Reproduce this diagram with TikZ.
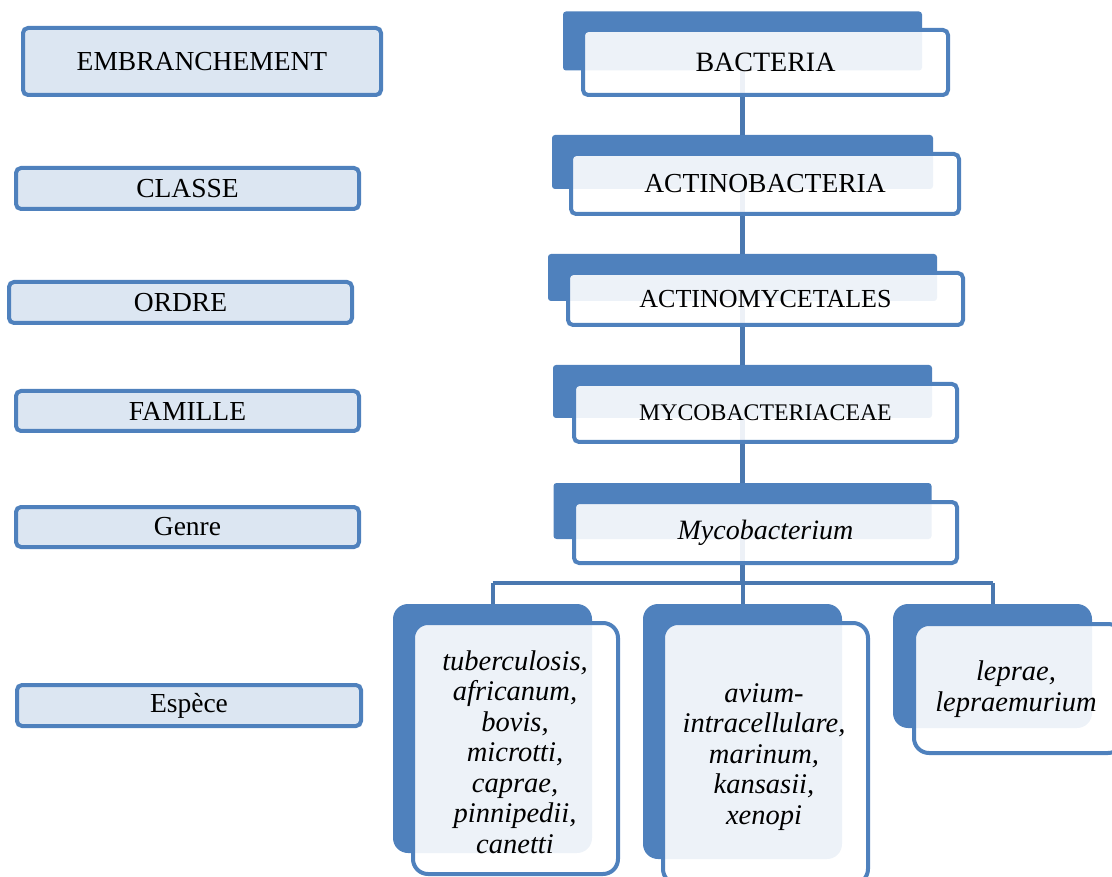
\documentclass[tikz,border=0pt]{standalone}
\usepackage{fontspec}
\setmainfont{Liberation Serif}
\definecolor{accent}{HTML}{4F81BD}
\definecolor{linkblue}{HTML}{4A78B0}
\definecolor{labelfill}{HTML}{DCE6F2}
\tikzset{
  rankbox/.style={rectangle, draw=accent, fill=labelfill, line width=4pt,
    rounded corners=5pt, inner sep=0pt, font=\fontsize{27.5}{30}\selectfont},
  backbox/.style={rectangle, fill=accent, rounded corners=3pt, inner sep=0pt},
  frontbox/.style={rectangle, draw=accent, fill=white, fill opacity=0.9,
    text opacity=1, line width=4pt, rounded corners=5pt, inner sep=0pt,
    align=center},
  backcard/.style={backbox, rounded corners=15pt},
  frontcard/.style={frontbox, rounded corners=15pt},
  speciestext/.style={align=center, inner sep=0pt,
    font=\fontsize{28.5}{30.5}\selectfont\itshape},
  link/.style={draw=linkblue, line width=5pt},
  bus/.style={draw=linkblue, line width=4pt},
}
\begin{document}
\begin{tikzpicture}[x=1pt, y=-1pt]
\useasboundingbox (0,0) rectangle (1112,877);
\clip (0,0) rectangle (1112,877);

% taxonomic ranks, left column
\node[rankbox, minimum width=358pt, minimum height=67pt] (r1) at (202,61.5) {EMBRANCHEMENT};
\node[rankbox, minimum width=343pt, minimum height=41pt] (r2) at (187.5,188.5) {CLASSE};
\node[rankbox, minimum width=343pt, minimum height=41pt] (r3) at (180.5,302.5) {ORDRE};
\node[rankbox, minimum width=343pt, minimum height=40pt] (r4) at (187.5,411) {FAMILLE};
\node[rankbox, minimum width=343pt, minimum height=40pt] (r5) at (187.5,527) {Genre};
\node[rankbox, minimum width=344pt, minimum height=41pt] (r6) at (189,705.5) {Espèce};

% coloured backing cards of the hierarchy
\node[backbox, minimum width=359pt, minimum height=59pt] (b1) at (742.5,41) {};
\node[backbox, minimum width=381pt, minimum height=54pt] (b2) at (742.5,162) {};
\node[backbox, minimum width=389pt, minimum height=47pt] (b3) at (742.5,277.5) {};
\node[backbox, minimum width=379pt, minimum height=53pt] (b4) at (742.5,391.5) {};
\node[backbox, minimum width=378pt, minimum height=56pt] (b5) at (742.5,511) {};
\node[backcard, minimum width=199pt, minimum height=249pt] (s1) at (492.5,728.5) {};
\node[backcard, minimum width=199pt, minimum height=255pt] (s2) at (742.5,731.5) {};
\node[backcard, minimum width=199pt, minimum height=124pt] (s3) at (992.5,666) {};

% connectors
\draw[link] (b1.south) -- (b2.north);
\draw[link] (b2.south) -- (b3.north);
\draw[link] (b3.south) -- (b4.north);
\draw[link] (b4.south) -- (b5.north);
\coordinate (busmid) at (742.5,583);
\draw[link] (b5.south) -- (busmid);
\draw[bus] (s1.north |- busmid) -- (s3.north |- busmid);
\draw[bus] (s1.north |- busmid) -- (s1.north);
\draw[bus] (busmid) -- (s2.north);
\draw[bus] (s3.north |- busmid) -- (s3.north);

% front cards with the names
\node[frontbox, minimum width=365pt, minimum height=65pt, font=\fontsize{28}{30}\selectfont] (f1) at (765.5,62.5) {BACTERIA};
\node[frontbox, minimum width=388pt, minimum height=60pt, font=\fontsize{27.5}{30}\selectfont] (f2) at (765,184) {ACTINOBACTERIA};
\node[frontbox, minimum width=395pt, minimum height=52pt, font=\fontsize{26}{28}\selectfont] (f3) at (765.5,299) {ACTINOMYCETALES};
\node[frontbox, minimum width=383pt, minimum height=58pt, font=\fontsize{23.8}{26}\selectfont] (f4) at (765.5,413) {MYCOBACTERIACEAE};
\node[frontbox, minimum width=383pt, minimum height=61pt, font=\fontsize{28}{30}\selectfont\itshape] (f5) at (765.5,532.5) {Mycobacterium};

\node[frontcard, minimum width=205pt, minimum height=251pt] (c1) at (515.5,748.5) {};
\node[frontcard, minimum width=205pt, minimum height=261pt] (c2) at (765.5,753.5) {};
\node[frontcard, minimum width=209pt, minimum height=129pt] (c3) at (1018.5,688.5) {};

\node[speciestext] (t1) at (515,752) {tuberculosis,\\africanum,\\bovis,\\microtti,\\caprae,\\pinnipedii,\\canetti};
\node[speciestext] (t2) at (764,757) {avium-\\intracellulare,\\marinum,\\kansasii,\\xenopi};
\node[speciestext] (t3) at (1016,689) {leprae,\\lepraemurium};
\end{tikzpicture}
\end{document}
